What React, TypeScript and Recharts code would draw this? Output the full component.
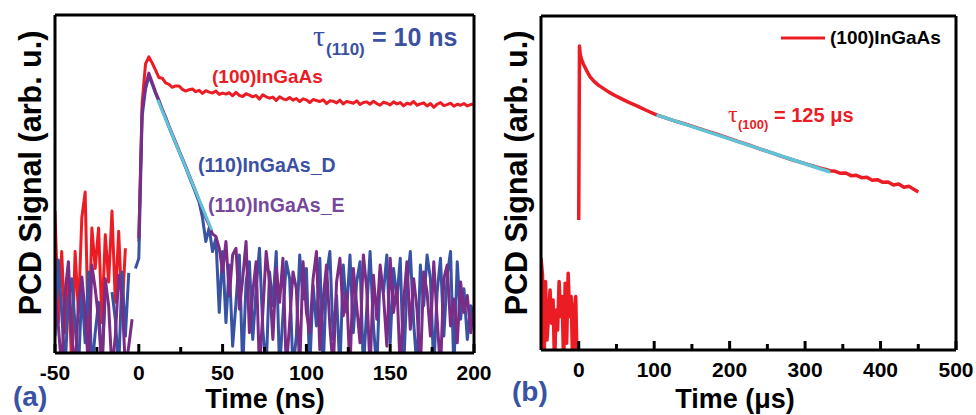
import { LineChart, Line, XAxis, YAxis, Legend } from "recharts";

const FONT = "'Liberation Sans', Arial, sans-serif";
const SERIF = "'Liberation Serif', 'DejaVu Serif', serif";
const RED = "#ec1c24";
const BLUE = "#3852a4";
const PURPLE = "#7b2c87";
const CYAN = "#5ec4d6";
const LABEL_BLUE = "#3a50a2";
const LABEL_PURPLE = "#75489b";
const INK = "#000";

// (a) PCD traces, one sample every 2 ns starting at -50 ns
const T_A_START = -50;
const T_A_STEP = 2;

const RED_A = [
  0.42, 0.09, 0.30, 0.06, 0.24, -0.05, 0.30, 0.12, 0.40, 0.476,
  0.02, 0.37, 0.25, 0.37, 0.09, 0.35, 0.21, 0.42, 0.15, 0.36,
  0.12, 0.31, null, null, null, 0.33, 0.74, 0.855, 0.876, 0.858,
  0.837, 0.815, 0.813, 0.799, 0.795, 0.786, 0.790, 0.790, 0.780, 0.775,
  0.779, 0.781, 0.773, 0.777, 0.768, 0.776, 0.772, 0.769, 0.775, 0.765,
  0.769, 0.766, 0.770, 0.761, 0.771, 0.762, 0.759, 0.767, 0.763, 0.758,
  0.762, 0.751, 0.764, 0.758, 0.754, 0.757, 0.747, 0.758, 0.752, 0.749,
  0.756, 0.748, 0.753, 0.744, 0.752, 0.749, 0.741, 0.750, 0.747, 0.744,
  0.749, 0.738, 0.746, 0.745, 0.740, 0.748, 0.737, 0.744, 0.742, 0.739,
  0.746, 0.735, 0.741, 0.743, 0.736, 0.745, 0.738, 0.733, 0.742, 0.739,
  0.734, 0.743, 0.737, 0.741, 0.731, 0.739, 0.736, 0.744, 0.733, 0.737,
  0.740, 0.731, 0.738, 0.727, 0.736, 0.741, 0.732, 0.735, 0.739, 0.730,
  0.736, 0.733, 0.738, 0.731, 0.735, 0.737,
];

const BLUE_A = [
  0.05, 0.275, 0.12, -0.05, 0.16, 0.22, 0.08, -0.05, 0.19, 0.03,
  0.24, -0.05, 0.06, 0.15, -0.05, 0.18, null, 0.18, 0.10, -0.05,
  0.24, 0.05, 0.237, null, 0.25, 0.28, 0.70, 0.78, 0.82, 0.795,
  0.768, 0.744, 0.718, 0.694, 0.668, 0.644, 0.620, 0.596, 0.572, 0.548,
  0.522, 0.498, 0.472, 0.446, 0.40, 0.33, 0.37, 0.30, 0.34, 0.12,
  0.30, 0.09, 0.26, 0.02, 0.15, 0.29, -0.05, 0.21, 0.27, 0.04,
  0.19, 0.31, 0.07, -0.05, 0.24, 0.14, 0.30, -0.05, 0.11, 0.27,
  0.22, -0.05, 0.05, 0.29, 0.16, 0.25, -0.05, 0.20, 0.08, 0.28,
  -0.05, 0.23, 0.30, 0.04, 0.17, -0.05, 0.26, 0.12, 0.29, 0.06,
  0.21, 0.27, -0.05, 0.13, 0.30, 0.08, -0.05, 0.24, 0.18, 0.29,
  0.03, 0.25, 0.16, 0.28, -0.05, 0.20, 0.30, 0.09, -0.05, 0.26,
  0.14, 0.29, 0.22, -0.05, 0.18, 0.28, 0.05, 0.23, 0.30, -0.05,
  0.27, 0.10, 0.19, 0.04, 0.14, 0.09,
];

const PURPLE_A = [
  0.20, 0.08, -0.05, 0.18, 0.27, 0.05, -0.05, 0.15, 0.225, 0.12,
  -0.05, 0.26, 0.19, 0.10, -0.05, 0.22, 0.14, -0.05, 0.05, 0.23,
  0.17, -0.05, 0.02, 0.10, null, 0.34, 0.72, 0.79, 0.828, 0.80,
  0.772, 0.748, 0.722, 0.698, 0.672, 0.648, 0.624, 0.600, 0.576, 0.552,
  0.527, 0.503, 0.478, 0.452, 0.428, 0.400, 0.378, 0.352, 0.345, 0.31,
  0.24, 0.33, 0.17, 0.29, 0.31, 0.13, 0.22, 0.33, 0.06, 0.18,
  0.27, -0.05, 0.12, 0.30, 0.21, 0.04, 0.25, 0.15, 0.28, -0.05,
  0.09, 0.24, 0.19, -0.05, 0.27, 0.12, 0.06, 0.22, 0.30, 0.01,
  0.16, 0.26, 0.08, -0.05, 0.21, 0.28, 0.11, 0.18, -0.05, 0.25,
  0.14, 0.03, 0.29, 0.19, -0.05, 0.23, 0.10, 0.26, 0.17, 0.02,
  0.28, 0.12, 0.20, -0.05, 0.15, 0.27, 0.07, 0.22, 0.13, -0.05,
  0.24, 0.18, 0.05, 0.27, 0.10, -0.05, 0.22, 0.26, 0.08, 0.16,
  0.03, 0.21, 0.12, 0.17, 0.06, 0.14,
];

// exponential fit, tau(110) = 10 ns
const FIT_A_T = [11.3, 43.5];
const FIT_A_V = [0.749, 0.364];

const DOMAIN_A = [-50, 200];
const TICKS_A = [-50, -25, 0, 25, 50, 75, 100, 125, 150, 175, 200];
const LABELS_A = [-50, 0, 50, 100, 150, 200];

// (b) long-time decay of (100)InGaAs, microseconds
const T_B = [
  -50, -48, -46, -44, -42, -40, -38, -36, -34, -32, -30, -28, -26, -24, -22,
  -20, -18, -16, -14, -12, -10, -8, -6, -4, -2, -1,
  0, 1, 2, 4, 6, 8, 11, 15, 20, 26, 32, 40, 48, 55, 65, 77, 90, 103, 115,
  130, 145, 165, 185, 205, 225, 240, 255, 270, 285, 300, 315, 333,
  340, 347, 354, 361, 368, 375, 382, 389, 396, 403, 410, 417, 424, 431, 438, 444, 450,
];
const RED_B = [
  0.275, 0.225, -0.05, 0.205, 0.03, 0.10, 0.18, 0.08, 0.15, -0.05, 0.12, 0.06, 0.205, 0.10, 0.16,
  -0.05, 0.20, 0.02, 0.23, 0.10, 0.16, -0.05, 0.12, 0.16, -0.05, null,
  0.389, 0.91, 0.885, 0.868, 0.857, 0.848, 0.834, 0.818, 0.805, 0.793, 0.784, 0.772, 0.762, 0.754, 0.743, 0.731, 0.717, 0.704, 0.695,
  0.684, 0.674, 0.659, 0.645, 0.629, 0.614, 0.602, 0.591, 0.579, 0.568, 0.558, 0.548, 0.537,
  0.535, 0.529, 0.530, 0.522, 0.523, 0.516, 0.517, 0.508, 0.510, 0.502, 0.503, 0.494, 0.497, 0.487, 0.490, 0.481, 0.473,
];

// exponential fit, tau(100) = 125 us
const FIT_B_T = [103, 333];
const FIT_B_V = [0.704, 0.533];

const DOMAIN_B = [-50, 500];
const TICKS_B = [0, 50, 100, 150, 200, 250, 300, 350, 400, 450, 500];
const LABELS_B = [0, 100, 200, 300, 400, 500];

const rowsA = RED_A.map((v, i) => ({
  t: T_A_START + i * T_A_STEP,
  red: v,
  blue: BLUE_A[i],
  purple: PURPLE_A[i],
}));
const fitA = FIT_A_T.map((t, i) => ({ t, fit: FIT_A_V[i] }));
const rowsB = T_B.map((t, i) => ({ t, red: RED_B[i] }));
const fitB = FIT_B_T.map((t, i) => ({ t, fit: FIT_B_V[i] }));

const frameLine = { stroke: INK, strokeWidth: 3 };

// inward tick marks from the axis scale; long ones carry a label
const tickRenderer = (labels: number[]) => (props: any) => {
  const { x, y, payload } = props;
  const major = labels.includes(payload.value);
  return (
    <g>
      <rect x={x - 1.5} y={y - (major ? 9 : 6)} width={3} height={major ? 9 : 6} fill={INK} />
      {major && (
        <text x={x} y={y + 27} textAnchor="middle" fontFamily={FONT} fontWeight={700} fontSize={21} fill="#000">
          {payload.value}
        </text>
      )}
    </g>
  );
};

// four axis lines make the closed box around each panel
function frameAxes(domain: number[], ticks: number[], labels: number[], axisHeight: number) {
  return [
    <XAxis
      key="bottom"
      type="number"
      dataKey="t"
      domain={domain}
      ticks={ticks}
      interval={0}
      allowDataOverflow
      axisLine={frameLine}
      tickLine={false}
      tickSize={0}
      tickMargin={0}
      height={axisHeight}
      tick={tickRenderer(labels)}
    />,
    <XAxis key="top" xAxisId="top" orientation="top" type="number" dataKey="t" domain={domain} allowDataOverflow height={1} axisLine={frameLine} tick={false} tickLine={false} />,
    <YAxis key="left" domain={[0, 1]} allowDataOverflow width={1} axisLine={frameLine} tick={false} tickLine={false} />,
    <YAxis key="right" yAxisId="right" orientation="right" domain={[0, 1]} allowDataOverflow width={1} axisLine={frameLine} tick={false} tickLine={false} />,
  ];
}

function LegendB({ payload }: any) {
  const items = (payload || []).filter((p: any) => p.type !== "none");
  return (
    <div style={{ display: "flex", alignItems: "center", height: 24 }}>
      {items.map((p: any) => (
        <div key={p.value} style={{ display: "flex", alignItems: "center" }}>
          <svg width={44} height={6}>
            <line x1={0} x2={44} y1={3} y2={3} stroke={p.color} strokeWidth={3} />
          </svg>
          <span style={{ fontFamily: FONT, fontWeight: 700, fontSize: 19, marginLeft: 5, color: "#000", whiteSpace: "nowrap" }}>
            {p.value}
          </span>
        </div>
      ))}
    </div>
  );
}

const lineProps = {
  type: "linear" as const,
  dot: false,
  activeDot: false,
  isAnimationActive: false,
  strokeLinejoin: "round" as const,
  connectNulls: false,
};

export default function App() {
  return (
    <div style={{ position: "absolute", left: 0, top: 0, width: 976, height: 415, background: "#fff" }}>
      {/* panel (a) */}
      <div style={{ position: "absolute", left: 0, top: 0 }}>
        <LineChart width={500} height={415} data={rowsA} margin={{ top: 14, right: 25, bottom: 0, left: 54 }}>
          {frameAxes(DOMAIN_A, TICKS_A, LABELS_A, 62)}
          <Line {...lineProps} dataKey="red" name="(100)InGaAs" stroke={RED} strokeWidth={3} />
          <Line {...lineProps} dataKey="blue" name="(110)InGaAs_D" stroke={BLUE} strokeWidth={3} />
          <Line {...lineProps} dataKey="purple" name="(110)InGaAs_E" stroke={PURPLE} strokeWidth={3} />
          <Line {...lineProps} data={fitA} dataKey="fit" name="fit" legendType="none" stroke={CYAN} strokeWidth={3} />
        </LineChart>
      </div>

      {/* panel (b) */}
      <div style={{ position: "absolute", left: 490, top: 0 }}>
        <LineChart width={486} height={415} data={rowsB} margin={{ top: 15, right: 19, bottom: 0, left: 50 }}>
          {frameAxes(DOMAIN_B, TICKS_B, LABELS_B, 65)}
          <Legend
            layout="horizontal"
            verticalAlign="middle"
            align="center"
            content={<LegendB />}
            wrapperStyle={{ left: 291, top: 26, width: "auto" }}
          />
          <Line {...lineProps} dataKey="red" name="(100)InGaAs" stroke={RED} strokeWidth={3.5} />
          <Line {...lineProps} data={fitB} dataKey="fit" name="fit" legendType="none" stroke={CYAN} strokeWidth={3.5} />
        </LineChart>
      </div>

      {/* axis titles and annotations */}
      <svg width={976} height={415} style={{ position: "absolute", left: 0, top: 0, pointerEvents: "none" }}>
        <g fontFamily={FONT} fontWeight={700} fill="#000">
          <text transform="translate(41,173) rotate(-90)" textAnchor="middle" fontSize={30.5}>PCD Signal (arb. u.)</text>
          <text transform="translate(527,173) rotate(-90)" textAnchor="middle" fontSize={30.5}>PCD Signal (arb. u.)</text>
          <text x={265} y={408} textAnchor="middle" fontSize={27}>Time (ns)</text>
          <text x={735} y={408} textAnchor="middle" fontSize={27}>Time (μs)</text>
          <text x={13} y={406} fontSize={28} fill={BLUE}>(a)</text>
          <text x={512} y={401} fontSize={28} fill={BLUE}>(b)</text>
          <text x={212} y={83} fontSize={19} fill={RED}>(100)InGaAs</text>
          <text x={198} y={172} fontSize={19.5} fill={LABEL_BLUE}>(110)InGaAs_D</text>
          <text x={208} y={212} fontSize={19.5} fill={LABEL_PURPLE}>(110)InGaAs_E</text>
          <text fill={LABEL_BLUE}>
            <tspan x={313} y={46} fontFamily={SERIF} fontWeight={400} fontSize={30}>τ</tspan>
            <tspan x={326} y={55} fontSize={17}>(110)</tspan>
            <tspan x={372} y={46} fontSize={25}>= 10 ns</tspan>
          </text>
          <text fill={RED}>
            <tspan x={728} y={122} fontFamily={SERIF} fontWeight={400} fontSize={24}>τ</tspan>
            <tspan x={738} y={129} fontSize={13}>(100)</tspan>
            <tspan x={774} y={122} fontSize={20}>= 125 μs</tspan>
          </text>
        </g>
      </svg>
    </div>
  );
}
